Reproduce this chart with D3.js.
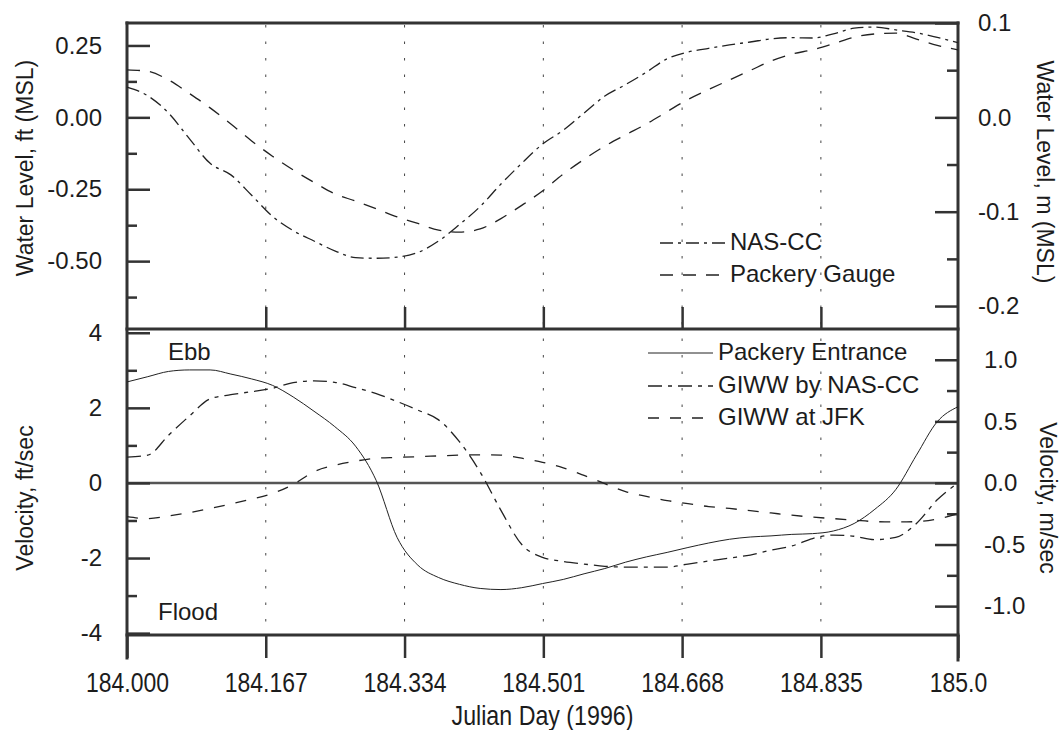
<!DOCTYPE html>
<html>
<head>
<meta charset="utf-8">
<script src="https://cdn.jsdelivr.net/npm/d3@7"></script>
<style>
  body { margin: 0; background: #fff; }
  text { font-family: Arial, "Liberation Sans", sans-serif; fill: #1c1c1c; }
</style>
</head>
<body>
<div id="wrapper"></div>
<script>
// 1. data
const julianDays = [
  184.000, 184.025, 184.050, 184.075, 184.100, 184.125, 184.150, 184.175, 184.200, 184.225,
  184.250, 184.275, 184.300, 184.325, 184.350, 184.375, 184.400, 184.425, 184.450, 184.475,
  184.500, 184.525, 184.550, 184.575, 184.600, 184.625, 184.650, 184.675, 184.700, 184.725,
  184.750, 184.775, 184.800, 184.825, 184.850, 184.875, 184.900, 184.925, 184.950, 184.975,
  185.000
]
// water level, ft (MSL)
const nasLevel = [
  0.105, 0.075, 0.015, -0.074, -0.16, -0.2, -0.271, -0.344, -0.394, -0.43,
  -0.464, -0.488, -0.49, -0.486, -0.47, -0.43, -0.373, -0.31, -0.232, -0.16,
  -0.093, -0.045, 0.015, 0.074, 0.114, 0.157, 0.204, 0.227, 0.24, 0.252,
  0.262, 0.273, 0.277, 0.276, 0.29, 0.31, 0.314, 0.304, 0.294, 0.278,
  0.26
]
const packeryLevel = [
  0.165, 0.16, 0.13, 0.083, 0.033, -0.023, -0.082, -0.135, -0.183, -0.226,
  -0.266, -0.291, -0.318, -0.346, -0.369, -0.392, -0.399, -0.388, -0.352, -0.306,
  -0.256, -0.197, -0.146, -0.1, -0.061, -0.023, 0.02, 0.062, 0.097, 0.13,
  0.163, 0.196, 0.22, 0.235, 0.256, 0.279, 0.29, 0.293, 0.272, 0.25,
  0.235
]
// velocity, ft/sec
const packeryEntranceVel = [
  2.69, 2.83, 2.97, 3.01, 3.01, 2.9, 2.77, 2.6, 2.29, 1.91,
  1.5, 0.98, 0.06, -1.45, -2.19, -2.52, -2.7, -2.81, -2.84, -2.79,
  -2.68, -2.57, -2.42, -2.28, -2.11, -1.97, -1.85, -1.72, -1.6, -1.5,
  -1.44, -1.41, -1.37, -1.35, -1.28, -1.08, -0.7, -0.18, 0.74, 1.63,
  2.03
]
const giwwNasVel = [
  0.69, 0.74, 1.27, 1.78, 2.24, 2.35, 2.43, 2.52, 2.67, 2.72,
  2.68, 2.54, 2.38, 2.17, 1.94, 1.68, 1.1, 0.29, -0.73, -1.64,
  -1.98, -2.09, -2.16, -2.22, -2.24, -2.24, -2.24, -2.16, -2.08, -2.0,
  -1.92, -1.79, -1.68, -1.48, -1.39, -1.42, -1.51, -1.45, -1.08, -0.45,
  0.0
]
const giwwJfkVel = [
  -0.9, -0.95, -0.88, -0.79, -0.68, -0.56, -0.43, -0.28, -0.04, 0.3,
  0.47, 0.58, 0.66, 0.68, 0.7, 0.72, 0.74, 0.75, 0.74, 0.66,
  0.55, 0.4, 0.2, -0.02, -0.23, -0.36, -0.47, -0.55, -0.63, -0.68,
  -0.74, -0.8, -0.86, -0.91, -0.95, -0.99, -1.03, -1.04, -1.03, -0.96,
  -0.82
]

const xTickValues = [184.000, 184.167, 184.334, 184.501, 184.668, 184.835, 185.0]
const xTickLabels = ["184.000", "184.167", "184.334", "184.501", "184.668", "184.835", "185.0"]
const levelFtTicks = [0.25, 0, -0.25, -0.5]
const levelFtMinor = [0.125, -0.125, -0.375, -0.625]
const levelMTicks = [0.1, 0, -0.1, -0.2]
const levelMMinor = [0.05, -0.05, -0.15]
const velFtTicks = [4, 2, 0, -2, -4]
const velFtMinor = [3, 1, -1, -3]
const velMTicks = [1.0, 0.5, 0, -0.5, -1.0]
const velMMinor = [0.75, 0.25, -0.25, -0.75]

const FT_PER_M = 3.28084

function drawChart() {
  // 2. dimensions
  const dimensions = {
    width: 1064,
    height: 730,
    margin: { top: 23, left: 127, right: 106 },
    panelHeight: 306,
  }
  const left = dimensions.margin.left
  const right = dimensions.width - dimensions.margin.right
  const top1 = dimensions.margin.top
  const mid = top1 + dimensions.panelHeight
  const bottom = mid + dimensions.panelHeight

  // 3. canvas
  const svg = d3.select("#wrapper")
    .append("svg")
    .attr("width", dimensions.width)
    .attr("height", dimensions.height)

  // 4. scales
  const xScale = d3.scaleLinear().domain([184, 185]).range([left, right])
  const levelFt = [-0.736, 0.1 * FT_PER_M]
  const yLevelFt = d3.scaleLinear().domain(levelFt).range([mid, top1])
  const yLevelM = d3.scaleLinear().domain(levelFt.map(d => d / FT_PER_M)).range([mid, top1])
  const velFt = [-4.05, 4.1]
  const yVelFt = d3.scaleLinear().domain(velFt).range([bottom, mid])
  const yVelM = d3.scaleLinear().domain(velFt.map(d => d / FT_PER_M)).range([bottom, mid])

  // dotted grid lines
  svg.append("g")
    .selectAll("line")
    .data(xTickValues.slice(1, -1))
    .join("line")
    .attr("x1", d => xScale(d)).attr("x2", d => xScale(d))
    .attr("y1", top1 + 2).attr("y2", bottom)
    .attr("stroke", "#444")
    .attr("stroke-width", 1)
    .attr("stroke-dasharray", "2.5,14")

  // zero velocity line
  svg.append("line")
    .attr("x1", left).attr("x2", right)
    .attr("y1", yVelFt(0)).attr("y2", yVelFt(0))
    .attr("stroke", "#555").attr("stroke-width", 2.5)

  // axes helpers
  const styleAxis = g => {
    g.select(".domain").remove()
    g.selectAll("line").attr("stroke", "#333").attr("stroke-width", 2.5)
    g.selectAll("text").attr("font-size", 24).attr("fill", "#1c1c1c")
  }
  const addY = (axisFn, scale, values, fmt, size, pad, xPos) => {
    svg.append("g")
      .attr("transform", `translate(${xPos},0)`)
      .call(axisFn(scale).tickValues(values)
        .tickFormat(fmt).tickSizeInner(-size).tickSizeOuter(0).tickPadding(pad))
      .call(styleAxis)
  }

  addY(d3.axisLeft, yLevelFt, levelFtTicks, d => d.toFixed(2), 23, 25, left)
  addY(d3.axisLeft, yLevelFt, levelFtMinor, () => "", 10, 0, left)
  addY(d3.axisRight, yLevelM, levelMTicks, d => d.toFixed(1), 23, 20, right)
  addY(d3.axisRight, yLevelM, levelMMinor, () => "", 11, 0, right)
  addY(d3.axisLeft, yVelFt, velFtTicks, d => String(d), 23, 25, left)
  addY(d3.axisLeft, yVelFt, velFtMinor, () => "", 10, 0, left)
  addY(d3.axisRight, yVelM, velMTicks, d => d.toFixed(1), 23, 26, right)
  addY(d3.axisRight, yVelM, velMMinor, () => "", 11, 0, right)

  // upward ticks at bottom of top panel
  svg.append("g")
    .attr("transform", `translate(0,${mid})`)
    .call(d3.axisTop(xScale).tickValues(xTickValues.slice(1, -1))
      .tickFormat(() => "").tickSizeInner(22).tickSizeOuter(0))
    .call(styleAxis)

  // bottom x axis
  svg.append("g")
    .attr("transform", `translate(0,${bottom})`)
    .call(d3.axisBottom(xScale).tickValues(xTickValues)
      .tickFormat((d, i) => xTickLabels[i]).tickSizeInner(23).tickSizeOuter(0).tickPadding(14))
    .call(styleAxis)
    .call(g => g.selectAll("text")
      .attr("font-size", 28)
      .attr("transform", "scale(0.82,1)"))

  // frame
  const frame = [
    [left, top1, right, top1],
    [left, mid, right, mid],
    [left, bottom, right, bottom],
    [left, top1, left, bottom + 23],
    [right, top1, right, bottom + 25],
  ]
  svg.append("g")
    .selectAll("line")
    .data(frame)
    .join("line")
    .attr("x1", d => d[0]).attr("y1", d => d[1])
    .attr("x2", d => d[2]).attr("y2", d => d[3])
    .attr("stroke", "#333")
    .attr("stroke-width", 3)
    .attr("stroke-linecap", "square")

  // 5. series
  const series = [
    { name: "NAS-CC", values: nasLevel, y: yLevelFt, dash: "13,5,3,5", width: 1.3 },
    { name: "Packery Gauge", values: packeryLevel, y: yLevelFt, dash: "13,10", width: 1.3 },
    { name: "Packery Entrance", values: packeryEntranceVel, y: yVelFt, dash: null, width: 1 },
    { name: "GIWW by NAS-CC", values: giwwNasVel, y: yVelFt, dash: "14,6,4,6", width: 1.3 },
    { name: "GIWW at JFK", values: giwwJfkVel, y: yVelFt, dash: "11,11", width: 1.3 },
  ]
  series.forEach(s => {
    const line = d3.line()
      .x((d, i) => xScale(julianDays[i]))
      .y(d => s.y(d))
      .curve(d3.curveMonotoneX)
    svg.append("path")
      .datum(s.values)
      .attr("d", line)
      .attr("fill", "none")
      .attr("stroke", "#222")
      .attr("stroke-width", s.width)
      .attr("stroke-dasharray", s.dash)
  })

  // legends
  const legendTop = [
    { s: series[0], y: 243 },
    { s: series[1], y: 275 },
  ]
  const legendBottom = [
    { s: series[2], y: 353 },
    { s: series[3], y: 386 },
    { s: series[4], y: 418 },
  ]
  const drawLegend = (items, x0, x1) => {
    const g = svg.append("g")
    items.forEach(item => {
      g.append("line")
        .attr("x1", x0).attr("x2", x1)
        .attr("y1", item.y).attr("y2", item.y)
        .attr("stroke", "#222")
        .attr("stroke-width", item.s.width)
        .attr("stroke-dasharray", item.s.dash)
      g.append("text")
        .attr("x", x1 + 5).attr("y", item.y + 7)
        .attr("font-size", 24)
        .text(item.s.name)
    })
  }
  drawLegend(legendTop, 660, 725)
  drawLegend(legendBottom, 648, 713)

  // annotations
  svg.append("text").attr("x", 168).attr("y", 360).attr("font-size", 24).text("Ebb")
  svg.append("text").attr("x", 158).attr("y", 620).attr("font-size", 24).text("Flood")

  // axis titles
  const title = (text, x, y, angle, size) => svg.append("text")
    .attr("transform", `translate(${x},${y}) rotate(${angle})`)
    .attr("text-anchor", "middle")
    .attr("font-size", size)
    .text(text)
  title("Water Level, ft (MSL)", 33, 168, -90, 23)
  title("Velocity, ft/sec", 33, 498, -90, 23)
  title("Water Level, m (MSL)", 1037, 172, 90, 23)
  title("Velocity, m/sec", 1040, 498, 90, 23)

  svg.append("text")
    .attr("transform", `translate(${(left + right) / 2},725) scale(0.86,1)`)
    .attr("text-anchor", "middle")
    .attr("font-size", 27)
    .text("Julian Day (1996)")
}

drawChart()
</script>
</body>
</html>
